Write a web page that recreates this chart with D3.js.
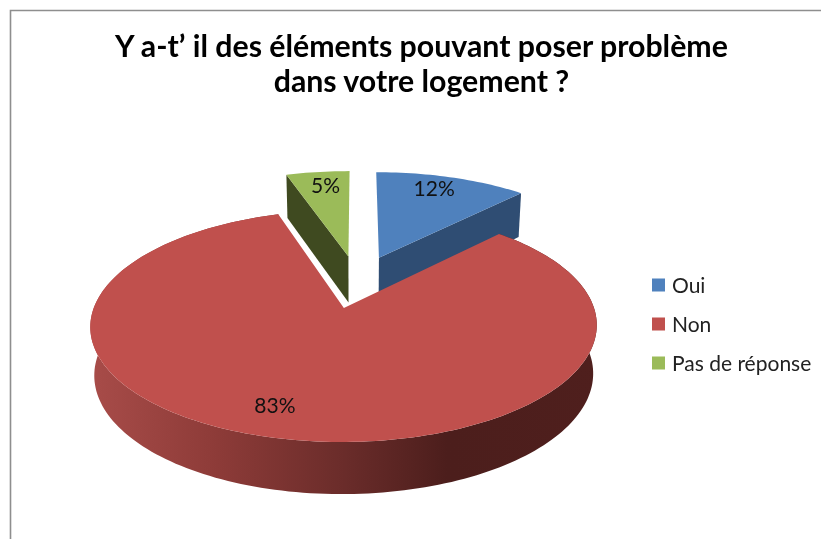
<!DOCTYPE html>
<html>
<head>
<meta charset="utf-8">
<script src="https://cdn.jsdelivr.net/npm/d3@7"></script>
<style>
  html, body { margin: 0; padding: 0; background: #fff; overflow: hidden; }
  svg { display: block; filter: blur(0.4px); }
  text { font-family: Lato, "Open Sans", sans-serif; }
</style>
</head>
<body>
<svg id="chart" width="821" height="539"></svg>
<script>
// data
const categories = ['Oui', 'Non', 'Pas de réponse'];
const values = [12, 83, 5];
const percentLabels = ['12%', '83%', '5%'];
const titleLines = ['Y a-t’ il des éléments pouvant poser problème', 'dans votre logement ?'];

// colours, same order as categories
const topColors = ['#4f81bd', '#c0504d', '#9bbb59'];
const wallColors = ['#2f4d73', '#6e2f2d', '#3f4a20'];

// layout of the fake 3d pie
const centerX = 357.5, centerY = 281.4;
const radiusX = 241, radiusY = 105;
const perspective = 0.15;
const explode = 0.25;
const depth = 47;
const bottomShrink = 0.985;
// where each % sits on its slice: distance from the slice tip and turn from the mid angle
const labelRadius = [0.83, 0.8, 0.81];
const labelTurn = [-0.04, 0.08, 0.015];

const svg = d3.select('#chart');

// disc coordinates -> screen. u goes right, v goes towards the viewer
function project(u, v, bottom) {
    let w = 1 / (1 - perspective * v);
    if (!bottom) return [centerX + radiusX * u * w, centerY + radiusY * v * w];
    return [centerX + radiusX * u * w * bottomShrink, centerY + radiusY * v * w + depth * Math.sqrt(w)];
}

const slices = d3.pie().sort(null)(values);
slices.forEach(s => {
    let mid = (s.startAngle + s.endAngle) / 2;
    s.mid = mid;
    s.u0 = explode * Math.sin(mid);
    s.v0 = -explode * Math.cos(mid);
});

function rimPoint(s, angle, bottom) {
    return project(s.u0 + Math.sin(angle), s.v0 - Math.cos(angle), bottom);
}

function arcPoints(s, bottom) {
    let n = Math.ceil((s.endAngle - s.startAngle) * 40);
    return d3.range(n + 1).map(i => rimPoint(s, s.startAngle + (s.endAngle - s.startAngle) * i / n, bottom));
}

const line = d3.line();
const closed = pts => line(pts) + 'Z';

// gradient on the round side of the red slice
const grad = svg.append('defs').append('linearGradient')
    .attr('id', 'redWall')
    .attr('gradientUnits', 'userSpaceOnUse')
    .attr('x1', 90).attr('x2', 600).attr('y1', 0).attr('y2', 0);
grad.selectAll('stop')
    .data([[0, '#a84c49'], [0.25, '#8d3b38'], [0.5, '#6a2c2a'], [0.7, '#4c1e1c'], [1, '#4f1f1d']])
    .enter().append('stop')
    .attr('offset', d => d[0])
    .attr('stop-color', d => d[1]);

// chart frame, only left and top are visible in the crop
svg.append('path')
    .attr('d', line([[10.5, 539], [10.5, 10.5], [821, 10.5]]))
    .attr('fill', 'none')
    .attr('stroke', '#8e8e8e')
    .attr('stroke-width', 1.6);

// back slices first, red goes over them
const [blue, red, green] = slices;

function cutWall(s, angle) {
    let tip = project(s.u0, s.v0), tipB = project(s.u0, s.v0, true);
    return closed([tip, rimPoint(s, angle), rimPoint(s, angle, true), tipB]);
}

svg.append('path').attr('d', cutWall(green, green.startAngle)).attr('fill', wallColors[2]);
svg.append('path').attr('d', cutWall(blue, blue.endAngle)).attr('fill', wallColors[0]);

[green, blue].forEach(s => {
    svg.append('path')
        .attr('d', closed([project(s.u0, s.v0)].concat(arcPoints(s))))
        .attr('fill', topColors[s.index]);
});

svg.append('path')
    .attr('d', closed(arcPoints(red).concat(arcPoints(red, true).reverse())))
    .attr('fill', 'url(#redWall)');
svg.append('path')
    .attr('d', closed([project(red.u0, red.v0)].concat(arcPoints(red))))
    .attr('fill', topColors[1]);

// percent labels
svg.selectAll('text.pct')
    .data(slices)
    .enter().append('text')
    .attr('class', 'pct')
    .attr('text-anchor', 'middle')
    .attr('font-size', 21)
    .attr('fill', '#111')
    .attr('transform', d => {
        let a = d.mid + labelTurn[d.index], r = labelRadius[d.index];
        let p = project(d.u0 + r * Math.sin(a), d.v0 - r * Math.cos(a));
        return `translate(${p[0]},${p[1] + 7})`;
    })
    .text(d => percentLabels[d.index]);

// title
svg.selectAll('text.title')
    .data(titleLines)
    .enter().append('text')
    .attr('class', 'title')
    .attr('x', 421.5)
    .attr('y', (d, i) => 57 + i * 35)
    .attr('text-anchor', 'middle')
    .attr('font-size', 30.3)
    .attr('font-weight', 700)
    .attr('fill', '#000')
    .text(d => d);

// legend
const legendY = d3.scalePoint().domain(categories).range([285, 363]);
const legend = svg.selectAll('g.legend')
    .data(categories)
    .enter().append('g')
    .attr('class', 'legend')
    .attr('transform', d => `translate(652,${legendY(d)})`);
legend.append('rect')
    .attr('y', -6.5).attr('width', 13).attr('height', 13)
    .attr('fill', (d, i) => topColors[i]);
legend.append('text')
    .attr('x', 20).attr('y', 7.5)
    .attr('font-size', 21)
    .attr('fill', '#222')
    .text(d => d);
</script>
</body>
</html>
